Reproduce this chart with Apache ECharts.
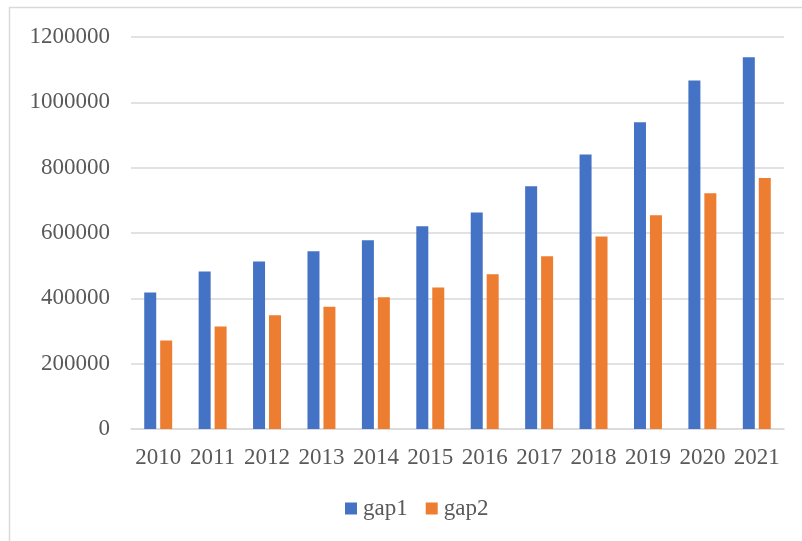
<!DOCTYPE html>
<html>
<head>
<meta charset="utf-8">
<script src="https://cdn.jsdelivr.net/npm/echarts@6/dist/echarts.min.js"></script>
<style>
  html, body { margin: 0; padding: 0; background: #fff; }
  #chart { width: 802px; height: 541px; }
</style>
</head>
<body>
<div id="chart"></div>
<script>
const chartElement = document.getElementById('chart');
const myChart = echarts.init(chartElement);

const years = ['2010', '2011', '2012', '2013', '2014', '2015', '2016', '2017', '2018', '2019', '2020', '2021'];
const gap1 = [418000, 482000, 513000, 544000, 578000, 621000, 663000, 743000, 840000, 939000, 1067000, 1138000];
const gap2 = [271000, 314000, 348000, 374000, 403000, 433000, 474000, 529000, 589000, 654000, 722000, 768000];

const textStyle = {
    fontFamily: 'Liberation Serif',
    fontSize: 23,
    color: '#595959',
};

const option = {
    animation: false,
    // outer frame, only left/top edges show in the crop
    graphic: [
        {
            type: 'rect',
            shape: {x: 9.5, y: 7.5, width: 820, height: 560},
            style: {fill: 'none', stroke: '#d9d9d9', lineWidth: 1.5},
            silent: true,
        },
    ],
    grid: {left: 131, right: 18, top: 37, bottom: 112},
    legend: {
        left: 340,
        top: 492,
        itemWidth: 12,
        itemHeight: 12,
        itemGap: 18,
        icon: 'rect',
        textStyle: {...textStyle, padding: [0, 0, 0, 1]},
        data: ['gap1', 'gap2'],
    },
    xAxis: {
        type: 'category',
        data: years,
        axisLine: {lineStyle: {color: '#d9d9d9', width: 1.5}},
        axisTick: {show: false},
        axisLabel: {...textStyle, margin: 17, interval: 0},
    },
    yAxis: {
        type: 'value',
        min: 0,
        max: 1200000,
        interval: 200000,
        axisLine: {show: false},
        axisTick: {show: false},
        axisLabel: {...textStyle, margin: 21, formatter: (v) => String(v)},
        splitLine: {lineStyle: {color: '#d9d9d9', width: 1.5}},
    },
    series: [
        {
            name: 'gap1',
            type: 'bar',
            data: gap1,
            barWidth: 12,
            barGap: '33%',
            itemStyle: {color: '#4472C4'},
        },
        {
            name: 'gap2',
            type: 'bar',
            data: gap2,
            barWidth: 12,
            itemStyle: {color: '#ED7D31'},
        },
    ],
};

myChart.setOption(option);
</script>
</body>
</html>
